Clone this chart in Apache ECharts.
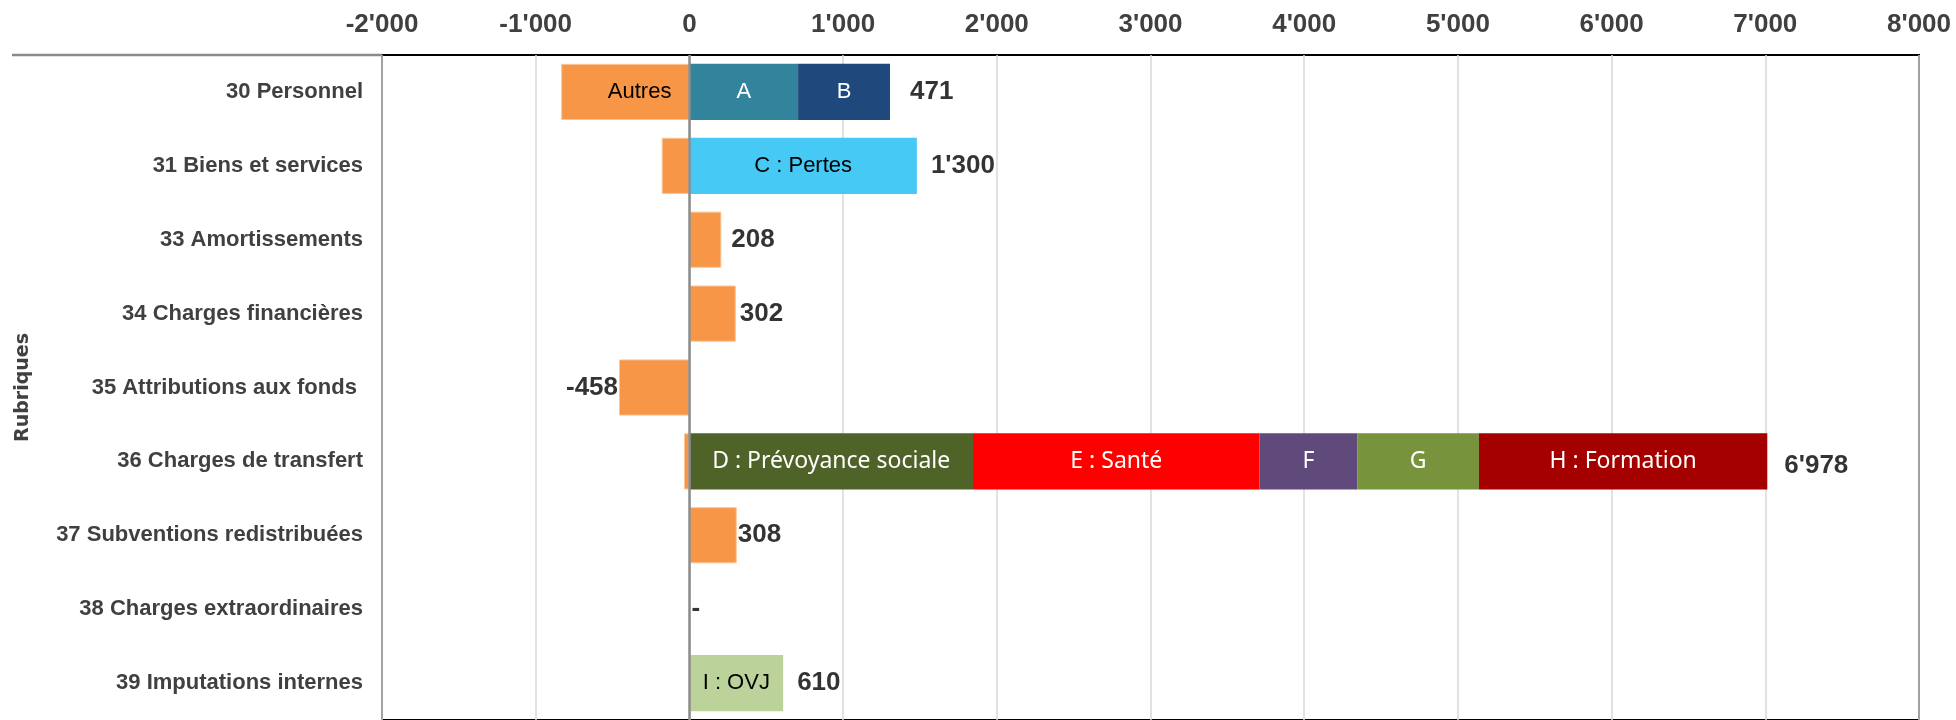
<!DOCTYPE html>
<html>
<head>
<meta charset="utf-8">
<script src="https://cdn.jsdelivr.net/npm/echarts@6/dist/echarts.min.js"></script>
<style>
html,body{margin:0;padding:0;background:#fff;}
#chart{width:1956px;height:720px;}
</style>
</head>
<body>
<div id="chart"></div>
<script>
// ---------- DATA ----------
const categories = [
  '30 Personnel',
  '31 Biens et services',
  '33 Amortissements',
  '34 Charges financières',
  '35 Attributions aux fonds ',
  '36 Charges de transfert',
  '37 Subventions redistribuées',
  '38 Charges extraordinaires',
  '39 Imputations internes'
];
const xTicks = [-2000, -1000, 0, 1000, 2000, 3000, 4000, 5000, 6000, 7000, 8000];

const autres = [-834, -180, 208, 302, -458, -35, 308, 0, null];
const segA   = [707, null, null, null, null, null, null, null, null];
const segB   = [598, null, null, null, null, null, null, null, null];
const segC   = [null, 1480, null, null, null, null, null, null, null];
const segD   = [null, null, null, null, null, 1845, null, null, null];
const segE   = [null, null, null, null, null, 1865, null, null, null];
const segF   = [null, null, null, null, null, 637, null, null, null];
const segG   = [null, null, null, null, null, 790, null, null, null];
const segH   = [null, null, null, null, null, 1876, null, null, null];
const segI   = [null, null, null, null, null, null, null, null, 610];
const totals = [471, 1300, 208, 302, -458, 6978, 308, 0, 610];

// segment names (label texts)
const segNames = {
  autres: 'Autres', A: 'A', B: 'B', C: 'C : Pertes', D: 'D : Prévoyance sociale',
  E: 'E : Santé', F: 'F', G: 'G', H: 'H : Formation', I: 'I : OVJ'
};

// ---------- STYLE ----------
const labelGap = [20, 14, 10, 4, 1, 17, 1, 2, 14];

function fmt(v) {
  if (v === 0) return '-';
  const s = Math.abs(v).toString().replace(/\B(?=(\d{3})+(?!\d))/g, "'");
  return (v < 0 ? '-' : '') + s;
}

const allSegs = [autres, segA, segB, segC, segD, segE, segF, segG, segH, segI];
const labelPoints = categories.map((c, i) => {
  let pos = 0, neg = 0;
  allSegs.forEach(s => { const v = s[i]; if (v != null) { if (v > 0) pos += v; else neg += v; } });
  const x = totals[i] < 0 ? neg : pos;
  return {
    value: [x, i],
    label: {
      position: totals[i] < 0 ? 'left' : 'right',
      distance: labelGap[i],
      offset: i === 5 ? [0, 4] : [0, 0]
    }
  };
});

const arial = 'Liberation Sans, Arial, sans-serif';
const calibri = 'Noto Sans, sans-serif';

function segSeries(name, arr, color, labelColor, font) {
  return {
    name: name, type: 'bar', stack: 'tot', barCategoryGap: '24%',
    data: arr,
    itemStyle: { color: color },
    label: {
      show: true, position: 'inside',
      formatter: name, color: labelColor, fontFamily: font, fontSize: font === arial ? 22 : 23
    },
    emphasis: { disabled: true }
  };
}

const orangeData = autres.map((v, i) => i === 0
  ? { value: v, label: { show: true, position: 'insideRight', distance: 18, formatter: segNames.autres, color: '#000', fontFamily: arial, fontSize: 22 } }
  : { value: v, label: { show: false } });

const option = {
  animation: false,
  backgroundColor: '#fff',
  grid: { left: 382, right: 37, top: 55, height: 670, show: true, borderColor: '#000', borderWidth: 2, backgroundColor: 'transparent' },
  xAxis: {
    type: 'value', position: 'top', min: -2000, max: 8000, interval: 1000,
    axisLine: { show: false }, axisTick: { show: false },
    splitLine: { show: true, lineStyle: { color: '#d9d9d9', width: 1.5 } },
    axisLabel: {
      margin: 17, color: '#404040', fontWeight: 'bold', fontSize: 26, fontFamily: arial,
      formatter: v => xTicks.includes(v) ? (v === 0 ? '0' : fmt(v)) : ''
    }
  },
  yAxis: {
    type: 'category', data: categories, inverse: true,
    axisLine: { show: false }, axisTick: { show: false },
    axisLabel: { margin: 19, color: '#404040', fontWeight: 'bold', fontSize: 22, fontFamily: arial },
    name: 'Rubriques', nameLocation: 'middle', nameRotate: 90, nameGap: 349,
    nameTextStyle: { color: '#404040', fontWeight: 'bold', fontSize: 19, fontFamily: 'DejaVu Sans, sans-serif' }
  },
  series: [
    {
      name: 'Autres', type: 'bar', stack: 'tot', barCategoryGap: '24%',
      data: orangeData,
      itemStyle: { color: '#F79646', borderColor: '#FBC496', borderWidth: 1 },
      emphasis: { disabled: true },
      markLine: {
        silent: true, symbol: ['none', 'none'], label: { show: false },
        lineStyle: { color: '#8c8c8c', width: 2.5, type: 'solid' },
        data: [{ xAxis: 0 }], z: 10
      }
    },
    segSeries(segNames.A, segA, '#31849B', '#fff', arial),
    segSeries(segNames.B, segB, '#1F497D', '#fff', arial),
    segSeries(segNames.C, segC, '#47C9F6', '#000', arial),
    segSeries(segNames.D, segD, '#4F6228', '#fff', calibri),
    segSeries(segNames.E, segE, '#FF0000', '#fff', calibri),
    segSeries(segNames.F, segF, '#604A7B', '#fff', calibri),
    segSeries(segNames.G, segG, '#77933C', '#fff', calibri),
    segSeries(segNames.H, segH, '#A50000', '#fff', calibri),
    segSeries(segNames.I, segI, '#BBD29A', '#000', arial),
    {
      name: 'Total', type: 'scatter', symbolSize: 0, silent: true, z: 20,
      data: labelPoints,
      label: {
        show: true, color: '#000', fontWeight: 'bold', fontSize: 26, fontFamily: arial,
        formatter: p => fmt(totals[p.dataIndex])
      }
    }
  ],
  graphic: [
    { type: 'line', shape: { x1: 12, y1: 55, x2: 382, y2: 55 }, style: { stroke: '#8a8a8a', lineWidth: 2.5 }, z: 100 }
  ]
};

const chart = echarts.init(document.getElementById('chart'), null, { renderer: 'canvas' });
chart.setOption(option);
</script>
</body>
</html>
